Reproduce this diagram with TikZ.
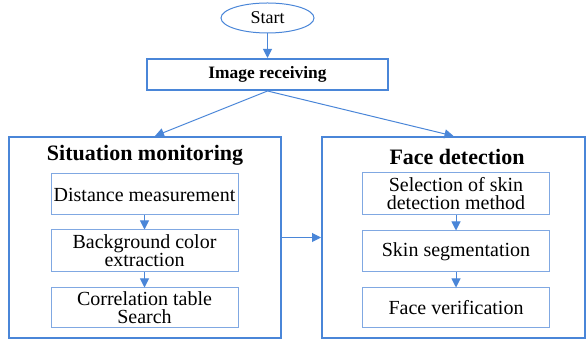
\documentclass[tikz,border=0pt]{standalone}
\usepackage{fontspec}
\setmainfont{Liberation Serif}
\usepackage{tikz}
\usetikzlibrary{arrows.meta}
\usetikzlibrary{shapes}
\definecolor{flowblue}{RGB}{74,134,216}
\definecolor{lightblue}{RGB}{128,168,226}
\tikzset{
  outerbox/.style={draw=flowblue, line width=1pt, inner sep=0pt},
  innerbox/.style={draw=lightblue, line width=0.5pt, minimum width=93.5pt, inner sep=0pt,
    align=center, font=\fontsize{10}{9}\selectfont},
  titletext/.style={font=\fontsize{11}{12}\selectfont\bfseries},
  link/.style={draw=flowblue, line width=0.5pt, -{Triangle[length=4.5pt,width=4.5pt]}}
}

\begin{document}
\begin{tikzpicture}[x=0.5pt, y=-0.5pt]
        \useasboundingbox (0,0) rectangle (587,340);
        % top
        \node[ellipse, draw=flowblue, line width=0.5pt, minimum width=46.5pt, minimum height=15pt,
              inner sep=0pt, font=\fontsize{9}{10}\selectfont] (start) at (267.5,18) {Start};
        \node[outerbox, minimum width=120.5pt, minimum height=15.5pt,
              font=\fontsize{8.7}{10}\selectfont\bfseries] (img) at (267.5,74.5) {Image receiving};
        % left block
        \node[outerbox, minimum width=136pt, minimum height=100.5pt] (sit) at (145,237.5) {};
        \node[titletext] (sittitle) at (145,155) {Situation monitoring};
        \node[innerbox, minimum height=20.5pt] (dist) at (144.5,194.5) {Distance measurement};
        \node[innerbox, minimum height=21pt] (bgcol) at (144.5,251) {Background color\\extraction};
        \node[innerbox, minimum height=20pt] (corr) at (144.5,308) {Correlation table\\Search};
        % right block
        \node[outerbox, minimum width=131.5pt, minimum height=100.5pt] (face) at (453.5,237.5) {};
        \node[titletext] (facetitle) at (457,157) {Face detection};
        \node[innerbox, minimum height=21pt] (skinsel) at (456,194) {Selection of skin\\detection method};
        \node[innerbox, minimum height=20.5pt] (skinseg) at (456,251.5) {Skin segmentation};
        \node[innerbox, minimum height=20pt] (verif) at (456,308) {Face verification};
        % links
        \draw[link] (start) -- (img);
        \draw[link] (img.south) -- ([xshift=5pt]sit.north);
        \draw[link] (img.south) -- (face.north);
        \draw[link] (sit.east) -- (face.west);
        \draw[link] (dist) -- (bgcol);
        \draw[link] (bgcol) -- (corr);
        \draw[link] (skinsel) -- (skinseg);
        \draw[link] (skinseg) -- (verif);
    \end{tikzpicture}
\end{document}
